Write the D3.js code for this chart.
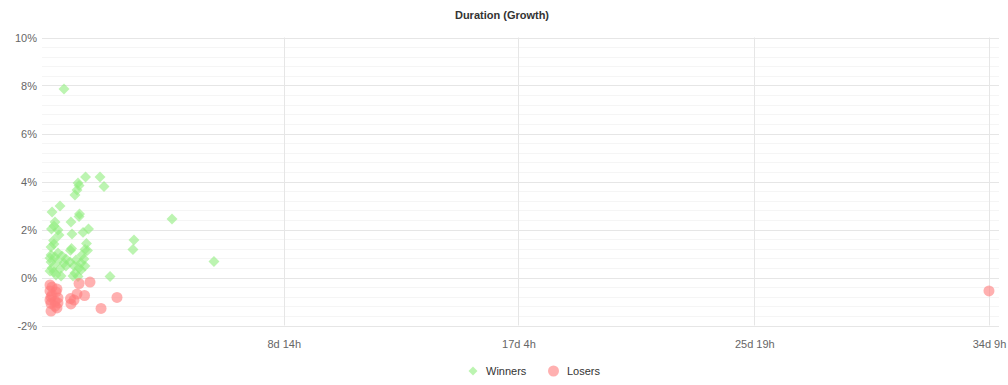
<!DOCTYPE html>
<html>
<head>
<meta charset="utf-8">
<script src="https://cdn.jsdelivr.net/npm/d3@7"></script>
<style>
  body { margin: 0; background: #fff; }
  text { font-family: "Liberation Sans", Arial, sans-serif; }
</style>
</head>
<body>
<div id="chart"></div>
<script>
// duration in hours, growth in %
var winners = [
  [12.3, 7.85], [31.2, 4.19], [43.9, 4.19], [47.4, 3.79], [24.6, 3.94], [25.5, 3.83],
  [23.7, 3.65], [21.9, 3.44], [8.8, 2.98], [1.8, 2.73], [25.9, 2.65], [25.5, 2.54],
  [107.1, 2.44], [18.4, 2.31], [4.4, 2.31], [3.5, 2.15], [1.3, 2.02], [7.0, 1.98],
  [33.8, 2.02], [29.0, 1.88], [7.9, 1.77], [19.3, 1.81], [73.7, 1.56], [3.1, 1.54],
  [3.5, 1.40], [32.0, 1.42], [0.9, 1.27], [18.9, 1.21], [18.0, 1.13], [30.7, 1.17],
  [32.9, 1.13], [72.8, 1.17], [143.9, 0.67], [52.7, 0.04], [0.9, 0.94], [4.4, 0.85],
  [7.0, 1.02], [10.5, 0.90], [14.0, 0.77], [12.3, 0.60], [6.1, 0.65], [0.9, 0.65],
  [22.8, 0.73], [27.2, 0.60], [29.8, 0.77], [28.1, 0.94], [21.1, 0.48], [25.5, 0.40],
  [30.7, 0.48], [1.8, 0.40], [0.0, 0.27], [3.5, 0.23], [21.9, 0.19], [27.2, 0.31],
  [20.2, 0.06], [9.7, 0.06], [24.6, 0.04], [5.3, 0.10], [17.6, 0.65], [8.8, 0.35],
  [14.0, 0.48], [0.0, 0.81]
];
var losers = [
  [0.0, -0.31], [1.8, -0.40], [6.1, -0.48], [25.5, -0.25], [35.1, -0.19], [0.0, -0.56],
  [5.3, -0.60], [0.9, -0.81], [7.0, -0.85], [18.0, -0.88], [23.7, -0.69], [30.3, -0.75],
  [21.1, -0.94], [18.4, -1.10], [58.8, -0.83], [44.8, -1.29], [0.9, -1.40], [0.9, -1.08],
  [4.4, -1.00], [6.1, -1.27], [0.0, -0.94], [4.4, -1.19], [7.0, -1.06], [1.8, -0.73],
  [824.1, -0.56]
];
var xTicks = [206, 412, 619, 825];
var yTicks = [-2, 0, 2, 4, 6, 8, 10];

var width = 1008, height = 385;
var plotLeft = 42, plotRight = 999, plotTop = 37.5, plotBottom = 325.5;

var svg = d3.select("#chart").append("svg")
  .attr("width", width)
  .attr("height", height);

var x = d3.scaleLinear().domain([0, 825]).range([50, 990]);
var y = d3.scaleLinear().domain([-2, 10]).range([plotBottom, plotTop]);

// minor grid
var minor = d3.range(-2, 10.001, 0.4);
svg.append("g").selectAll("line").data(minor).enter().append("line")
  .attr("x1", plotLeft).attr("x2", plotRight)
  .attr("y1", function(d) { return Math.round(y(d)) + 0.5; })
  .attr("y2", function(d) { return Math.round(y(d)) + 0.5; })
  .attr("stroke", "#f5f5f5");

// major grid
svg.append("g").selectAll("line").data(yTicks).enter().append("line")
  .attr("x1", plotLeft).attr("x2", plotRight)
  .attr("y1", function(d) { return Math.round(y(d)) + 0.5; })
  .attr("y2", function(d) { return Math.round(y(d)) + 0.5; })
  .attr("stroke", "#e6e6e6");

svg.append("g").selectAll("line").data(xTicks).enter().append("line")
  .attr("x1", function(d) { return Math.round(x(d)) - 0.5; })
  .attr("x2", function(d) { return Math.round(x(d)) - 0.5; })
  .attr("y1", plotTop).attr("y2", plotBottom)
  .attr("stroke", "#e6e6e6");

// axes labels
var yAxis = d3.axisLeft(y).tickValues(yTicks).tickSize(0).tickPadding(5)
  .tickFormat(function(d) { return d + "%"; });
svg.append("g").attr("transform", "translate(" + plotLeft + ",0)").call(yAxis)
  .call(function(g) { g.select(".domain").remove(); })
  .selectAll("text").attr("fill", "#666").attr("font-size", 11)
  .style("font-family", "'Liberation Sans', Arial, sans-serif");

var xAxis = d3.axisBottom(x).tickValues(xTicks).tickSize(0).tickPadding(15)
  .tickFormat(function(d) { return Math.floor(d / 24) + "d " + (d % 24) + "h"; });
svg.append("g").attr("transform", "translate(-1," + plotBottom + ")").call(xAxis)
  .call(function(g) { g.select(".domain").remove(); })
  .selectAll("text").attr("fill", "#666").attr("font-size", 11)
  .style("font-family", "'Liberation Sans', Arial, sans-serif");

// points
var green = "#90ed7d";
var red = "#ff7c7c";
var alpha = 0.6;

svg.append("g").selectAll("path").data(winners).enter().append("path")
  .attr("d", d3.symbol().type(d3.symbolSquare).size(60))
  .attr("transform", function(d) { return "translate(" + x(d[0]) + "," + y(d[1]) + ") rotate(45)"; })
  .attr("fill", green)
  .attr("fill-opacity", alpha);

svg.append("g").selectAll("circle").data(losers).enter().append("circle")
  .attr("cx", function(d) { return x(d[0]); })
  .attr("cy", function(d) { return y(d[1]); })
  .attr("r", 5.5)
  .attr("fill", red)
  .attr("fill-opacity", alpha);

// title
svg.append("text")
  .attr("x", 502).attr("y", 19)
  .attr("text-anchor", "middle")
  .attr("font-size", 11).attr("font-weight", "bold").attr("fill", "#333")
  .text("Duration (Growth)");

// legend
var legend = svg.append("g");
legend.append("path")
  .attr("d", d3.symbol().type(d3.symbolSquare).size(40))
  .attr("transform", "translate(473,371) rotate(45)")
  .attr("fill", green).attr("fill-opacity", alpha);
legend.append("text").attr("x", 486).attr("y", 375)
  .attr("font-size", 11).attr("fill", "#333").text("Winners");
legend.append("circle").attr("cx", 553.5).attr("cy", 371).attr("r", 5.5)
  .attr("fill", red).attr("fill-opacity", alpha);
legend.append("text").attr("x", 567).attr("y", 375)
  .attr("font-size", 11).attr("fill", "#333").text("Losers");
</script>
</body>
</html>
